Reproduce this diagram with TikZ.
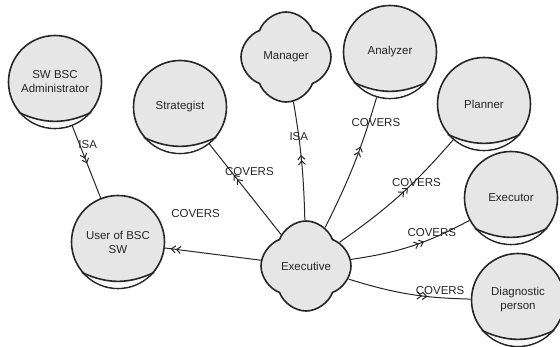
\documentclass[tikz,border=0pt]{standalone}
\usepackage{fontspec}
\setmainfont{Liberation Sans}
\usetikzlibrary{shapes.symbols,positioning,decorations.markings,arrows.meta}
\definecolor{bubble}{HTML}{E6E6E6}
\definecolor{ink}{HTML}{262626}
\tikzset{
  role/.style={circle, draw=ink, line width=1.6pt, fill=bubble, minimum size=93pt,
    inner sep=0pt, align=center, text=ink, font=\fontsize{11.5}{14}\selectfont},
  puff/.style={cloud, cloud puffs=4, cloud puff arc=140, aspect=1, shape border rotate=45,
    draw=ink, line width=1.6pt, fill=bubble, minimum width=90pt, minimum height=90pt,
    inner sep=0pt, text=ink, font=\fontsize{11.5}{14}\selectfont},
  rel/.style={draw=ink, line width=1pt},
  tipat/.style={postaction={decorate}, decoration={markings, mark=at position #1 with
    {\arrow{Straight Barb[length=4pt,width=7pt] Straight Barb[length=4pt,width=7pt]}}}},
  lbl/.style={text=ink, inner sep=1pt, font=\fontsize{11.5}{14}\selectfont}
}
% lower lip of a role bubble
\newcommand{\lip}[1]{%
  \begin{scope}
    \clip (#1.center) circle (45.7pt);
    \fill[bubble!30!white] (#1.220) to[bend right=25] (#1.320)
      -- ([yshift=-40pt]#1.320) -- ([yshift=-40pt]#1.220) -- cycle;
  \end{scope}
  \draw[ink, line width=1.6pt] (#1.220) to[bend right=25] (#1.320);}
\begin{document}
\begin{tikzpicture}[x=1pt, y=-1pt]
\useasboundingbox (0,0) rectangle (560,347);
\node[role] (admin) at (55,82) {SW BSC\\Administrator};
\node[role] (strat) at (180,107) {Strategist};
\node[puff] (manager) at (286,57) {Manager};
\node[role] (analyzer) at (390,52) {Analyzer};
\node[role] (planner) at (484,104) {Planner};
\node[role] (executor) at (511,198) {Executor};
\node[role] (diag) at (518,300) {Diagnostic\\person};
\node[role] (user) at (118,242) {User of BSC\\SW};
\node[puff] (exec) at (306,266) {Executive};
\foreach \n in {admin,strat,analyzer,planner,executor,diag,user} {\lip{\n}}
\draw[rel, tipat=0.52] (admin) to node[lbl, pos=0.26, xshift=8pt] {ISA} (user);
\draw[rel, tipat=0.55] (exec) to[bend right=4] node[lbl, pos=0.72] {ISA} (manager);
\draw[rel, tipat=0.63] (exec) to[bend right=5] node[lbl, pos=0.83, xshift=7pt] {COVERS} (analyzer);
\draw[rel, tipat=0.57] (exec) to[bend right=7] node[lbl, pos=0.66, yshift=-3pt] {COVERS} (planner);
\draw[rel, tipat=0.66] (exec) to node[lbl, pos=0.72, xshift=20pt, yshift=-2pt] {COVERS} (strat);
\draw[rel, tipat=0.94] (exec) to node[lbl, pos=0.68, yshift=38pt] {COVERS} (user);
\draw[rel, tipat=0.6] (exec) to[bend right=10] node[lbl, pos=0.68, yshift=6pt] {COVERS} (executor);
\draw[rel, tipat=0.65] (exec) to[bend right=8] node[lbl, pos=0.72, xshift=6pt, yshift=7pt] {COVERS} (diag);
\end{tikzpicture}
\end{document}
